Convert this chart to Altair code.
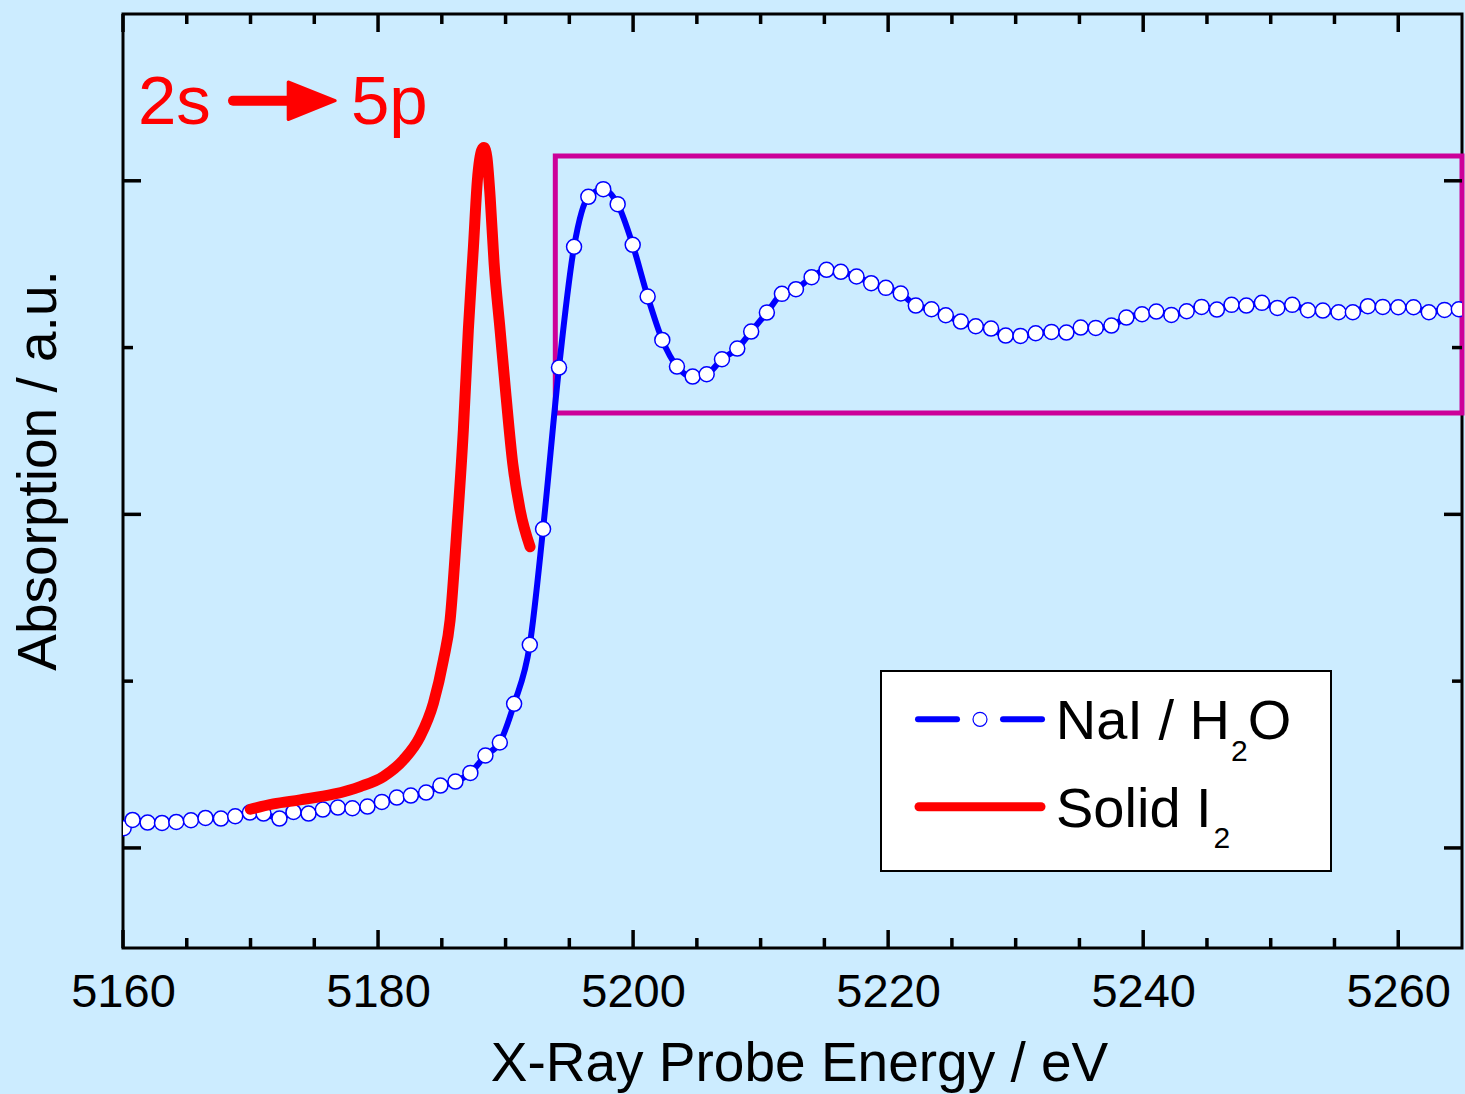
import altair as alt
import pandas as pd

# ---------------- data ----------------
nai_energy = [5160.05, 5160.75, 5161.93, 5163.06, 5164.18, 5165.33, 5166.47, 5167.68, 5168.80, 5169.95,
              5171.02, 5172.27, 5173.37, 5174.55, 5175.67, 5176.85, 5177.99, 5179.17, 5180.30, 5181.47,
              5182.57, 5183.77, 5184.89, 5186.07, 5187.24, 5188.42, 5189.55, 5190.67, 5191.90, 5192.94,
              5194.19, 5195.37, 5196.49, 5197.66, 5198.79, 5199.97, 5201.14, 5202.29, 5203.44, 5204.67,
              5205.77, 5206.97, 5208.17, 5209.26, 5210.49, 5211.67, 5212.77, 5214.00, 5215.17, 5216.29,
              5217.52, 5218.67, 5219.82, 5220.99, 5222.17, 5223.40, 5224.52, 5225.70, 5226.87, 5228.07,
              5229.22, 5230.38, 5231.57, 5232.81, 5233.98, 5235.10, 5236.28, 5237.51, 5238.68, 5239.91,
              5241.03, 5242.21, 5243.41, 5244.58, 5245.78, 5246.93, 5248.09, 5249.31, 5250.52, 5251.69,
              5252.92, 5254.09, 5255.32, 5256.44, 5257.62, 5258.79, 5260.00, 5261.20, 5262.40, 5263.63,
              5264.75]
nai_absorption = [0.059, 0.084, 0.076, 0.075, 0.078, 0.083, 0.090, 0.088, 0.095, 0.106,
                  0.103, 0.088, 0.108, 0.103, 0.115, 0.121, 0.119, 0.124, 0.138, 0.151,
                  0.157, 0.166, 0.187, 0.199, 0.225, 0.277, 0.316, 0.432, 0.609, 0.956,
                  1.440, 1.802, 1.952, 1.975, 1.930, 1.808, 1.653, 1.523, 1.443, 1.413,
                  1.420, 1.465, 1.497, 1.548, 1.605, 1.661, 1.675, 1.711, 1.733, 1.727,
                  1.713, 1.693, 1.679, 1.662, 1.626, 1.615, 1.597, 1.578, 1.564, 1.557,
                  1.536, 1.535, 1.543, 1.547, 1.545, 1.560, 1.559, 1.566, 1.590, 1.600,
                  1.608, 1.598, 1.609, 1.622, 1.614, 1.628, 1.626, 1.634, 1.619, 1.628,
                  1.612, 1.611, 1.606, 1.606, 1.624, 1.622, 1.621, 1.621, 1.606, 1.613,
                  1.615]

i2_energy = [5169.98, 5171.80, 5173.89, 5176.50, 5178.60, 5180.42, 5181.99, 5183.30, 5184.34, 5185.13,
             5185.65, 5186.18, 5186.69, 5187.08, 5187.48, 5187.79, 5188.13, 5188.31, 5188.53, 5188.79,
             5189.10, 5189.57, 5190.04, 5190.56, 5191.14, 5191.92]
i2_absorption = [0.116, 0.132, 0.144, 0.161, 0.184, 0.214, 0.264, 0.334, 0.434, 0.564,
                 0.683, 0.953, 1.253, 1.553, 1.802, 2.002, 2.092, 2.100, 2.072, 1.952,
                 1.753, 1.553, 1.353, 1.153, 1.013, 0.903]

# highlighted region (energy range and absorption range)
box_energy = [5193.9, 5265]
box_absorption = [1.304, 2.074]

x_major = [5160, 5180, 5200, 5220, 5240, 5260]
x_minor = [5165, 5170, 5175, 5185, 5190, 5195, 5205, 5210, 5215,
           5225, 5230, 5235, 5245, 5250, 5255]
y_major = [0, 1, 2]
y_minor = [0.5, 1.5]

# ---------------- styling ----------------
W, H = 1339, 934
FONT = "Liberation Sans"
BLUE = "#0000FF"
RED = "#FF0000"
MAGENTA = "#CC0099"
BG = "#CCECFF"
MAJ, MIN = 18, 10

xs = alt.Scale(domain=[5160, 5265], nice=False, zero=False)
ys = alt.Scale(domain=[-0.3, 2.5], nice=False, zero=False)

x_axis = alt.Axis(values=x_major, format="d", ticks=False, tickSize=0, domain=False, grid=False,
                  labelFont=FONT, labelFontSize=47, labelColor="black", labelPadding=21,
                  labelFlush=False,
                  title="X-Ray Probe Energy / eV", titleFont=FONT, titleFontSize=55,
                  titleFontWeight="normal", titleColor="black", titleX=676, titleY=132,
                  titleBaseline="alphabetic", titleAlign="center")
y_axis = alt.Axis(labels=False, ticks=False, tickSize=0, domain=False, grid=False,
                  title="Absorption / a.u.", titleFont=FONT, titleFontSize=55,
                  titleFontWeight="normal", titleColor="black", titleAngle=270,
                  titleX=-68, titleY=456, titleBaseline="alphabetic", titleAlign="center")

nai = pd.DataFrame({"E": nai_energy, "A": nai_absorption})
i2 = pd.DataFrame({"E": i2_energy, "A": i2_absorption})
box = pd.DataFrame({"E": [box_energy[0]], "E2": [box_energy[1]],
                    "A": [box_absorption[1]], "A2": [box_absorption[0]]})

region = alt.Chart(box).mark_rect(fillOpacity=0, stroke=MAGENTA, strokeWidth=5).encode(
    x=alt.X("E:Q", scale=xs, axis=x_axis),
    x2="E2:Q",
    y=alt.Y("A:Q", scale=ys, axis=y_axis),
    y2="A2:Q",
)

nai_line = alt.Chart(nai).mark_line(color=BLUE, strokeWidth=6, interpolate="monotone", clip=True).encode(
    x=alt.X("E:Q", scale=xs), y=alt.Y("A:Q", scale=ys))
nai_pts = alt.Chart(nai).mark_point(shape="circle", filled=True, fill="white", stroke=BLUE,
                                    strokeWidth=1.5, size=225, opacity=1, fillOpacity=1,
                                    strokeOpacity=1, clip=True).encode(
    x=alt.X("E:Q", scale=xs), y=alt.Y("A:Q", scale=ys))
i2_line = alt.Chart(i2).mark_line(color=RED, strokeWidth=11, interpolate="monotone",
                                  strokeCap="round", strokeJoin="round").encode(
    x=alt.X("E:Q", scale=xs), y=alt.Y("A:Q", scale=ys))


def x_ticks(vals, length):
    df = pd.DataFrame({"E": vals})
    bottom = alt.Chart(df).mark_rule(color="black", strokeWidth=3.5).encode(
        x=alt.X("E:Q", scale=xs), y=alt.value(H), y2=alt.value(H - length))
    top = alt.Chart(df).mark_rule(color="black", strokeWidth=3.5).encode(
        x=alt.X("E:Q", scale=xs), y=alt.value(0), y2=alt.value(length))
    return [bottom, top]


def y_ticks(vals, length):
    df = pd.DataFrame({"A": vals})
    left = alt.Chart(df).mark_rule(color="black", strokeWidth=3.5).encode(
        y=alt.Y("A:Q", scale=ys), x=alt.value(0), x2=alt.value(length))
    right = alt.Chart(df).mark_rule(color="black", strokeWidth=3.5).encode(
        y=alt.Y("A:Q", scale=ys), x=alt.value(W), x2=alt.value(W - length))
    return [left, right]


ticks = x_ticks(x_major, MAJ) + x_ticks(x_minor, MIN) + y_ticks(y_major, MAJ) + y_ticks(y_minor, MIN)

one = pd.DataFrame({"k": [0]})


def txt(text, x, y, size, color="black"):
    return alt.Chart(one).mark_text(text=text, font=FONT, fontSize=size, align="left",
                                    baseline="alphabetic", color=color).encode(
        x=alt.value(x), y=alt.value(y))


def seg(x1, x2, y, width, color):
    return alt.Chart(one).mark_rule(color=color, strokeWidth=width, strokeCap="round").encode(
        x=alt.value(x1), x2=alt.value(x2), y=alt.value(y))


# legend
legend_box = alt.Chart(one).mark_rect(fill="white", stroke="black", strokeWidth=2).encode(
    x=alt.value(758), x2=alt.value(1208), y=alt.value(657), y2=alt.value(857))
leg_circle = alt.Chart(one).mark_point(shape="circle", filled=True, fill="white", stroke=BLUE,
                                       strokeWidth=1.2, size=196, opacity=1).encode(
    x=alt.value(857), y=alt.value(705.3))
legend = [
    legend_box,
    seg(795, 834, 705.3, 6, BLUE),
    seg(880, 919, 705.3, 6, BLUE),
    leg_circle,
    seg(796, 918, 792.7, 9, RED),
    txt("NaI / H", 932.7, 725.3, 56),
    txt("2", 1108, 746.5, 30),
    txt("O", 1124.7, 725.3, 56),
    txt("Solid I", 933, 812.7, 56),
    txt("2", 1090.5, 834, 30),
]

# annotation 2s -> 5p
arrow_head = alt.Chart(one).mark_point(shape="M -1 -0.8 L 1 0 L -1 0.8 Z", filled=True, fill=RED,
                                       stroke=RED, strokeWidth=3, strokeJoin="round", size=2209,
                                       opacity=1).encode(
    x=alt.value(188.7), y=alt.value(86.7))
annot = [
    txt("2s", 15, 110, 69, RED),
    seg(110, 172, 86.7, 10, RED),
    arrow_head,
    txt("5p", 228, 110, 69, RED),
]

chart = alt.layer(region, nai_line, nai_pts, i2_line, *ticks, *legend, *annot).properties(
    width=W, height=H,
    background=BG,
    autosize=alt.AutoSizeParams(type="none"),
    padding={"left": 123, "top": 14, "right": 3, "bottom": 146},
).configure_view(stroke="black", strokeWidth=3, fill=BG)

chart.save("out.html", embed_options={"renderer": "svg", "actions": False})
